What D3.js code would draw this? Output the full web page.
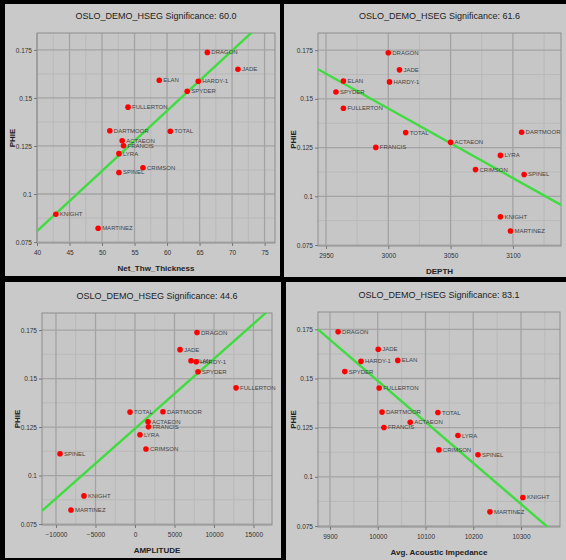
<!DOCTYPE html>
<html>
<head>
<meta charset="utf-8">
<script src="https://cdn.jsdelivr.net/npm/d3@7"></script>
<style>
  body { margin: 0; background: #000; }
  svg { display: block; font-family: "Liberation Sans", "DejaVu Sans", sans-serif; }
</style>
</head>
<body>
<svg id="chart" width="566" height="560"></svg>
<script>
// wells and PHIE (same y for every panel)
var wells = ["DRAGON", "JADE", "ELAN", "HARDY-1", "SPYDER", "FULLERTON", "DARTMOOR", "TOTAL",
             "ACTAEON", "FRANCIS", "LYRA", "CRIMSON", "SPINEL", "KNIGHT", "MARTINEZ"];
var phie = [0.1737, 0.1649, 0.1592, 0.1587, 0.1535, 0.1452, 0.1329, 0.1327,
            0.1277, 0.1251, 0.1210, 0.1137, 0.1112, 0.0895, 0.0822];

// x attributes
var netThickness = [66.2, 70.9, 58.8, 64.8, 63.1, 54.0, 51.2, 60.5, 53.1, 53.3, 52.6, 56.3, 52.6, 42.9, 49.4];
var depth = [3000, 3009, 2964, 3001, 2958, 2964, 3107, 3014, 3050, 2990, 3090, 3070, 3109, 3090, 3098];
var amplitude = [7850, 5700, 7090, 7750, 7980, 12790, 3540, -630, 1650, 1700, 630, 1390, -9490, -6460, -8100];
var impedance = [9917, 10001, 10042, 9965, 9931, 10003, 10009, 10126, 10068, 10013, 10168, 10128, 10210, 10304, 10235];

var titles = ["OSLO_DEMO_HSEG Significance: 60.0", "OSLO_DEMO_HSEG Significance: 61.6",
              "OSLO_DEMO_HSEG Significance: 44.6", "OSLO_DEMO_HSEG Significance: 83.1"];
var xLabels = ["Net_Thw_Thickness", "DEPTH", "AMPLITUDE", "Avg. Acoustic Impedance"];
var yLabel = "PHIE";

var xTicks = [[40, 45, 50, 55, 60, 65, 70, 75],
              [2950, 3000, 3050, 3100],
              [-10000, -5000, 0, 5000, 10000, 15000],
              [9900, 10000, 10100, 10200, 10300]];
var xDomains = [[40, 76.6], [2943.6, 3138.6], [-11770, 17340], [9874.9, 10381.7]];
var yTicks = [0.075, 0.1, 0.125, 0.15, 0.175];
var yDomain = [0.0745, 0.1838];

// regression lines, read as two end points
var fitLines = [[[40, 0.0807], [76.6, 0.1953]],
                [[2943.6, 0.1652], [3138.6, 0.0956]],
                [[-11770, 0.0818], [17340, 0.1867]],
                [[9874.9, 0.175], [10381.7, 0.0691]]];

var xSeries = [netThickness, depth, amplitude, impedance];

// layout: panel rect + plot box (absolute px)
var layout = [
    { px: 5, py: 4, pw: 275, ph: 272, l: 37, r: 275, t: 33, b: 243 },
    { px: 284, py: 4, pw: 282, ph: 273, l: 318, r: 561, t: 33, b: 246 },
    { px: 5, py: 282, pw: 276, ph: 276, l: 42, r: 272, t: 313, b: 525 },
    { px: 286, py: 282, pw: 280, ph: 278, l: 318, r: 560, t: 312, b: 527 }
];

var svg = d3.select("#chart");
var fmtY = function (d) { return String(+d.toFixed(3)); };

layout.forEach(function (L, i) {
    var g = svg.append("g");
    g.append("rect")
        .attr("x", L.px).attr("y", L.py).attr("width", L.pw).attr("height", L.ph)
        .attr("fill", "#c9c9c9");

    var x = d3.scaleLinear().domain(xDomains[i]).range([L.l, L.r]);
    var y = d3.scaleLinear().domain(yDomain).range([L.b, L.t]);

    g.append("rect")
        .attr("x", L.l).attr("y", L.t).attr("width", L.r - L.l).attr("height", L.b - L.t)
        .attr("fill", "#c6c6c6");

    // minor grid
    var xt = xTicks[i], stepX = xt[1] - xt[0];
    var minorX = d3.range(xt[0] - stepX / 2, xDomains[i][1], stepX).filter(function (v) { return v > xDomains[i][0]; });
    var minorY = d3.range(0.0625, yDomain[1], 0.025).filter(function (v) { return v > yDomain[0]; });
    g.append("g").selectAll("line").data(minorX).join("line")
        .attr("x1", function (d) { return x(d); }).attr("x2", function (d) { return x(d); })
        .attr("y1", L.t).attr("y2", L.b)
        .attr("stroke", "#b9b9b9").attr("stroke-width", 1);
    g.append("g").selectAll("line").data(minorY).join("line")
        .attr("x1", L.l).attr("x2", L.r)
        .attr("y1", function (d) { return y(d); }).attr("y2", function (d) { return y(d); })
        .attr("stroke", "#b9b9b9").attr("stroke-width", 1);

    // major grid
    g.append("g").selectAll("line").data(xt).join("line")
        .attr("x1", function (d) { return x(d); }).attr("x2", function (d) { return x(d); })
        .attr("y1", L.t).attr("y2", L.b)
        .attr("stroke", "#a3a3a3").attr("stroke-width", 1.3);
    g.append("g").selectAll("line").data(yTicks).join("line")
        .attr("x1", L.l).attr("x2", L.r)
        .attr("y1", function (d) { return y(d); }).attr("y2", function (d) { return y(d); })
        .attr("stroke", "#a3a3a3").attr("stroke-width", 1.3);

    g.append("rect")
        .attr("x", L.l).attr("y", L.t).attr("width", L.r - L.l).attr("height", L.b - L.t)
        .attr("fill", "none").attr("stroke", "#8e8e8e").attr("stroke-width", 1);

    // axes
    var xAxis = g.append("g").attr("transform", "translate(0," + L.b + ")")
        .call(d3.axisBottom(x).tickValues(xt).tickSize(3).tickPadding(4).tickFormat(d3.format("d")));
    var yAxis = g.append("g").attr("transform", "translate(" + L.l + ",0)")
        .call(d3.axisLeft(y).tickValues(yTicks).tickSize(3).tickPadding(2).tickFormat(fmtY));
    [xAxis, yAxis].forEach(function (a) {
        a.select(".domain").remove();
        a.selectAll("line").attr("stroke", "#777");
        a.selectAll("text").attr("fill", "#333").style("font-size", "6.5px");
    });

    // regression line (clipped to plot)
    var clipId = "clip" + i;
    g.append("clipPath").attr("id", clipId).append("rect")
        .attr("x", L.l).attr("y", L.t).attr("width", L.r - L.l).attr("height", L.b - L.t);
    g.append("path")
        .datum(fitLines[i])
        .attr("clip-path", "url(#" + clipId + ")")
        .attr("d", d3.line().x(function (d) { return x(d[0]); }).y(function (d) { return y(d[1]); }))
        .attr("stroke", "#3fdc3f").attr("stroke-width", 2.4).attr("fill", "none");

    // points
    var pts = wells.map(function (w, k) { return { name: w, x: xSeries[i][k], y: phie[k] }; });
    var pg = g.append("g");
    pg.selectAll("text").data(pts).join("text")
        .attr("x", function (d) { return x(d.x) + 4; })
        .attr("y", function (d) { return y(d.y) + 2; })
        .attr("fill", "#444").style("font-size", "6px")
        .text(function (d) { return d.name; });
    pg.selectAll("circle").data(pts).join("circle")
        .attr("cx", function (d) { return x(d.x); })
        .attr("cy", function (d) { return y(d.y); })
        .attr("r", 2.8)
        .attr("fill", "#ff0000");

    // titles
    g.append("text")
        .attr("x", (L.l + L.r) / 2).attr("y", L.t - 14)
        .attr("text-anchor", "middle").attr("fill", "#222")
        .style("font-size", "9px")
        .text(titles[i]);
    g.append("text")
        .attr("x", (L.l + L.r) / 2).attr("y", L.b + 28)
        .attr("text-anchor", "middle").attr("fill", "#222")
        .style("font-size", "8px").style("font-weight", "bold")
        .text(xLabels[i]);
    g.append("text")
        .attr("transform", "translate(" + (L.l - 22) + "," + ((L.t + L.b) / 2) + ") rotate(-90)")
        .attr("text-anchor", "middle").attr("fill", "#222")
        .style("font-size", "8px").style("font-weight", "bold")
        .text(yLabel);
});
</script>
</body>
</html>
